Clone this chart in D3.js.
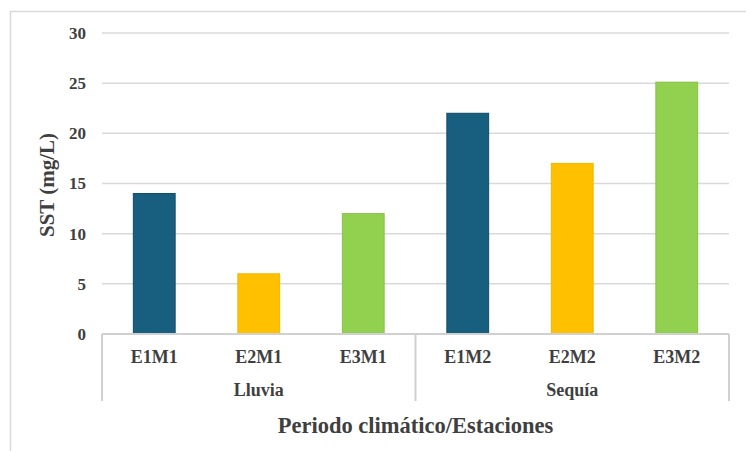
<!DOCTYPE html>
<html>
<head>
<meta charset="utf-8">
<script src="https://cdn.jsdelivr.net/npm/d3@7/dist/d3.min.js"></script>
<style>
  html, body { margin: 0; padding: 0; background: #fff; }
  svg { display: block; }
  text { font-family: "Liberation Serif", "Times New Roman", serif; font-weight: bold; fill: #3f3f3f; }
</style>
</head>
<body>
<svg id="chart" width="746" height="451"></svg>
<script>
// SST by station, grouped by climatic period
const stations = ["E1M1", "E2M1", "E3M1", "E1M2", "E2M2", "E3M2"];
const periods = ["Lluvia", "Sequía"];
const periodOf = ["Lluvia", "Lluvia", "Lluvia", "Sequía", "Sequía", "Sequía"];
const sstValues = [14, 6, 12, 22, 17, 25.1];
const barColors = ["#175e7f", "#ffc000", "#92d050", "#175e7f", "#ffc000", "#92d050"];
const strokeColors = ["#0f4d6a", "#f2b600", "#86c245", "#0f4d6a", "#f2b600", "#86c245"];
const yTicks = [0, 5, 10, 15, 20, 25, 30];

const svg = d3.select("#chart");
const plotLeft = 102, plotRight = 729, plotTop = 33, plotBottom = 334;

// chart frame
svg.append("rect")
  .attr("x", 10.5).attr("y", 11.5)
  .attr("width", 800).attr("height", 500)
  .attr("fill", "none").attr("stroke", "#d9d9d9").attr("stroke-width", 1.5);

const x = d3.scaleBand().domain(stations).range([plotLeft, plotRight])
  .paddingInner(0.6).paddingOuter(0.3);
const y = d3.scaleLinear().domain([0, 30]).range([plotBottom, plotTop]);

// gridlines
svg.append("g").selectAll("line").data(yTicks.filter(d => d > 0)).join("line")
  .attr("x1", plotLeft).attr("x2", plotRight)
  .attr("y1", d => y(d)).attr("y2", d => y(d))
  .attr("stroke", "#d9d9d9").attr("stroke-width", 1.5);

// y tick labels
const yAxis = d3.axisLeft(y).tickValues(yTicks).tickSize(0).tickPadding(16);
const gy = svg.append("g").attr("transform", `translate(${plotLeft},0)`).call(yAxis);
gy.select(".domain").remove();
gy.attr("font-family", null).attr("font-size", null);
gy.selectAll("text")
  .attr("font-family", "Liberation Serif").attr("font-weight", "bold")
  .attr("font-size", 17).attr("fill", "#3f3f3f");

// bars
svg.append("g").selectAll("rect").data(stations).join("rect")
  .attr("x", d => x(d))
  .attr("y", (d, i) => y(sstValues[i]))
  .attr("width", x.bandwidth())
  .attr("height", (d, i) => plotBottom - y(sstValues[i]))
  .attr("fill", (d, i) => barColors[i])
  .attr("stroke", (d, i) => strokeColors[i])
  .attr("stroke-width", 1);

// baseline and group separators
svg.append("line").attr("x1", plotLeft).attr("x2", plotRight)
  .attr("y1", plotBottom).attr("y2", plotBottom)
  .attr("stroke", "#d0d0d0").attr("stroke-width", 2);

const groupEdges = [plotLeft, (x(stations[2]) + x.bandwidth() + x(stations[3])) / 2, plotRight];
svg.append("g").selectAll("line").data(groupEdges).join("line")
  .attr("x1", d => d).attr("x2", d => d)
  .attr("y1", plotBottom).attr("y2", 401)
  .attr("stroke", "#d0d0d0").attr("stroke-width", 2);

// station labels
const xAxis = d3.axisBottom(x).tickSize(0).tickPadding(0);
const gx = svg.append("g").attr("transform", `translate(0,${plotBottom})`).call(xAxis);
gx.select(".domain").remove();
gx.attr("font-family", null).attr("font-size", null);
gx.selectAll("text")
  .attr("dy", null).attr("y", 29)
  .attr("font-family", "Liberation Serif").attr("font-weight", "bold")
  .attr("font-size", 18).attr("fill", "#3f3f3f");

// period labels
svg.append("g").selectAll("text").data(periods).join("text")
  .attr("x", p => {
    const members = stations.filter((s, i) => periodOf[i] === p);
    return (x(members[0]) + x(members[members.length - 1]) + x.bandwidth()) / 2;
  })
  .attr("y", 396)
  .attr("text-anchor", "middle")
  .attr("font-size", 18)
  .text(p => p);

// axis titles
svg.append("text")
  .attr("x", (plotLeft + plotRight) / 2).attr("y", 433)
  .attr("text-anchor", "middle")
  .attr("font-size", 22.5)
  .text("Periodo climático/Estaciones");

svg.append("text")
  .attr("transform", `translate(54,185) rotate(-90)`)
  .attr("text-anchor", "middle")
  .attr("font-size", 21)
  .text("SST (mg/L)");
</script>
</body>
</html>
